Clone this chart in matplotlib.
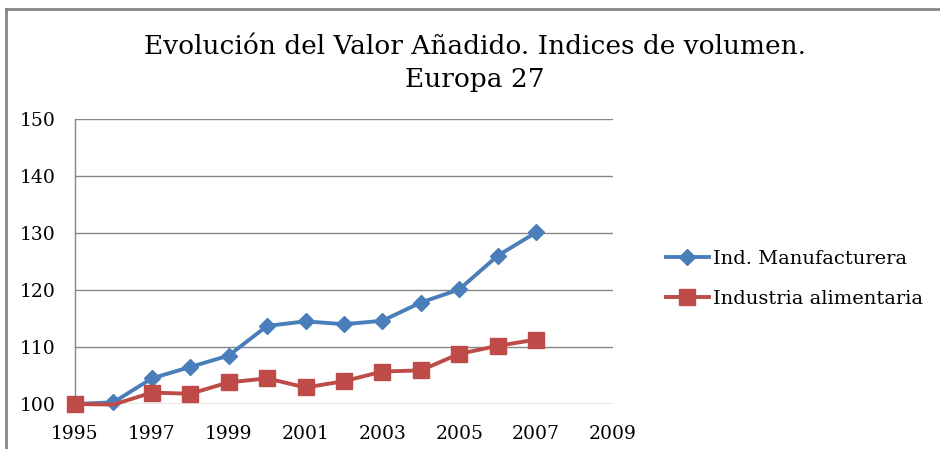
import matplotlib
matplotlib.use("Agg")
import matplotlib.pyplot as plt
from matplotlib.lines import Line2D

years = [1995, 1996, 1997, 1998, 1999, 2000, 2001, 2002, 2003, 2004, 2005, 2006, 2007]
manufacturera = [100.0, 100.3, 104.5, 106.5, 108.5, 113.7, 114.5, 114.0, 114.6, 117.8, 120.1, 126.0, 130.1]
alimentaria = [100.0, 99.9, 102.0, 101.8, 103.8, 104.5, 102.9, 104.0, 105.7, 105.9, 108.8, 110.2, 111.3]
x_ticks = [1995, 1997, 1999, 2001, 2003, 2005, 2007, 2009]
y_ticks = [100, 110, 120, 130, 140, 150]
title = "Evolución del Valor Añadido. Indices de volumen.\nEuropa 27"
labels = ["Ind. Manufacturera", "Industria alimentaria"]

serif = ["DejaVu Serif"]
plt.rcParams['font.family'] = serif

fig = plt.figure(figsize=(9.4, 4.49), dpi=100)
ax = fig.add_axes([0.0798, 0.1002, 0.652 - 0.0798, 0.735 - 0.1002])

blue = "#4a7ebb"
red = "#be4b48"
ax.plot(years, manufacturera, color=blue, lw=2.8, marker="D", ms=8, mec=blue, mfc=blue,
        zorder=3, clip_on=False, label=labels[0])
ax.plot(years, alimentaria, color=red, lw=2.8, marker="s", ms=12, mec=red, mfc=red,
        markevery=[i for i in range(len(years)) if i != 1], zorder=4, clip_on=False, label=labels[1])

ax.set_xlim(1995, 2009)
ax.set_ylim(100, 150)
ax.set_xticks(x_ticks)
ax.set_yticks(y_ticks)
ax.tick_params(axis="both", length=0, labelsize=13.5, colors="black")
ax.tick_params(axis="x", pad=15)
ax.tick_params(axis="y", pad=14)
ax.grid(axis="y", color="#868686", lw=1)
for s in ["top", "right", "bottom"]:
    ax.spines[s].set_visible(False)
ax.spines["left"].set_color("#868686")
ax.spines["left"].set_linewidth(1)

fig.text(0.505, 0.925, title, ha="center", va="top", fontsize=19, linespacing=1.4)

handles = [Line2D([], [], color=blue, lw=2.8, marker="D", ms=8),
           Line2D([], [], color=red, lw=2.8, marker="s", ms=12)]
fig.legend(handles, labels, loc="center left", bbox_to_anchor=(0.690, 0.379),
           frameon=False, fontsize=14, handlelength=2.2, handletextpad=0.2, labelspacing=1.1)

# chart border (top and left visible)
fig.add_artist(Line2D([0.0069, 0.0069], [0, 1 - 9/449], transform=fig.transFigure, color="#868686", lw=2))
fig.add_artist(Line2D([0.0069, 1], [1 - 9/449, 1 - 9/449], transform=fig.transFigure, color="#868686", lw=2))

fig.savefig("out.png", dpi=100)
